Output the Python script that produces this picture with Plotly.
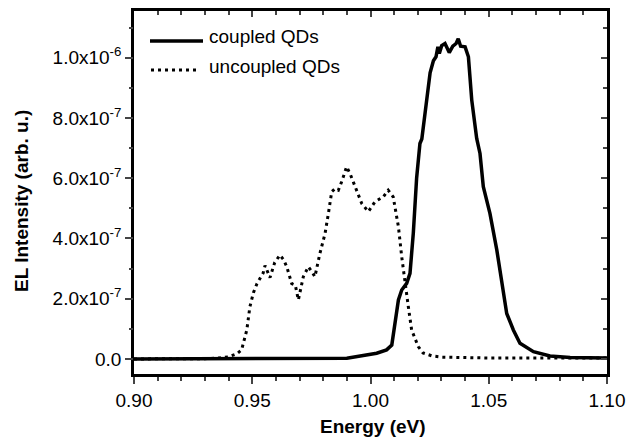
import plotly.graph_objects as go

# uncoupled QDs (dotted)
unc_x = [0.900, 0.910, 0.920, 0.930, 0.936, 0.940, 0.9435, 0.9455, 0.9477, 0.949, 0.9505, 0.952,
         0.9546, 0.9554, 0.9575, 0.9595, 0.9617, 0.9632, 0.9646, 0.9667, 0.9682, 0.9695, 0.9716,
         0.9737, 0.9752, 0.9765, 0.9786, 0.9808, 0.9822, 0.9836, 0.985, 0.9864, 0.9878, 0.9899,
         0.9913, 0.9934, 0.9963, 0.9991, 1.0019, 1.0054, 1.0075, 1.0096, 1.0118, 1.0132, 1.0146,
         1.016, 1.0174, 1.0202, 1.0222, 1.026, 1.03, 1.04, 1.05, 1.06, 1.07, 1.08, 1.09, 1.10]
unc_y = [0.0, 0.0, 0.0, 0.01e-7, 0.03e-7, 0.07e-7, 0.17e-7, 0.30e-7, 0.96e-7, 1.73e-7, 2.2e-7, 2.5e-7,
         2.85e-7, 3.1e-7, 2.7e-7, 3.2e-7, 3.45e-7, 3.3e-7, 3.06e-7, 2.5e-7, 2.45e-7, 1.96e-7, 2.73e-7,
         3.06e-7, 2.9e-7, 2.73e-7, 3.5e-7, 4.17e-7, 4.83e-7, 5.55e-7, 5.65e-7, 5.6e-7, 5.88e-7, 6.38e-7,
         6.16e-7, 5.72e-7, 5.16e-7, 4.89e-7, 5.22e-7, 5.38e-7, 5.6e-7, 5.38e-7, 4.39e-7, 3.39e-7, 2.51e-7,
         1.73e-7, 0.96e-7, 0.41e-7, 0.2e-7, 0.1e-7, 0.06e-7, 0.04e-7, 0.03e-7, 0.03e-7, 0.03e-7, 0.03e-7, 0.03e-7, 0.03e-7]

# coupled QDs (solid)
cpl_x = [0.900, 0.920, 0.940, 0.960, 0.980, 0.990, 1.0026, 1.0068, 1.009, 1.0104, 1.0118, 1.0132,
         1.0153, 1.0167, 1.0181, 1.0195, 1.0209, 1.0217, 1.023, 1.0252, 1.0266, 1.0277, 1.0285,
         1.0291, 1.0301, 1.0315, 1.0333, 1.0348, 1.0362, 1.0371, 1.0381, 1.040, 1.0414, 1.0428,
         1.0449, 1.0463, 1.0477, 1.0505, 1.0534, 1.0555, 1.0576, 1.0604, 1.0632, 1.0689, 1.0759,
         1.0844, 1.092, 1.100]
cpl_y = [0.0, 0.0, 0.0, 0.0, 0.01e-7, 0.02e-7, 0.19e-7, 0.3e-7, 0.46e-7, 1.18e-7, 1.96e-7, 2.29e-7,
         2.51e-7, 2.84e-7, 4.18e-7, 6.0e-7, 7.15e-7, 7.3e-7, 8.15e-7, 9.5e-7, 9.9e-7, 1.003e-6, 1.036e-6,
         1.014e-6, 1.04e-6, 1.047e-6, 1.017e-6, 1.038e-6, 1.047e-6, 1.063e-6, 1.038e-6, 1.036e-6, 1.003e-6, 8.6e-7,
         7.32e-7, 6.82e-7, 5.72e-7, 4.83e-7, 3.62e-7, 2.51e-7, 1.51e-7, 0.96e-7, 0.52e-7, 0.24e-7, 0.1e-7,
         0.05e-7, 0.03e-7, 0.03e-7]

ytick_vals = [0.0, 2e-7, 4e-7, 6e-7, 8e-7, 1e-6]
ytick_text = ["0.0", "2.0x10<sup>-7</sup>", "4.0x10<sup>-7</sup>", "6.0x10<sup>-7</sup>",
              "8.0x10<sup>-7</sup>", "1.0x10<sup>-6</sup>"]

FONT = "Liberation Sans, Arial, sans-serif"
FS = 19
XR = [0.9, 1.1]
YR = [-0.5e-7, 1.155e-6]

common = dict(showgrid=False, zeroline=False, automargin=False, linecolor="black")

fig = go.Figure()
fig.add_trace(go.Scatter(x=unc_x, y=unc_y, mode="lines", name="uncoupled QDs",
                         line=dict(color="black", width=3, dash="3px,4px")))
fig.add_trace(go.Scatter(x=cpl_x, y=cpl_y, mode="lines", name="coupled QDs",
                         line=dict(color="black", width=3.5)))
# helper traces so overlay axes get drawn (no visible marks)
fig.add_trace(go.Scatter(x=[None], y=[None], xaxis="x2", yaxis="y2", showlegend=False, hoverinfo="skip"))
fig.add_trace(go.Scatter(x=[None], y=[None], xaxis="x", yaxis="y3", showlegend=False, hoverinfo="skip"))

fig.update_layout(
    width=627, height=439,
    margin=dict(l=134, r=20, t=11, b=65),
    plot_bgcolor="white", paper_bgcolor="white",
    showlegend=False,
    font=dict(family=FONT, color="black", size=FS),
    xaxis=dict(range=XR, tickmode="linear", tick0=0.9, dtick=0.05, tickformat=".2f",
               ticks="outside", ticklen=7, tickwidth=2, showline=True, linewidth=2.5,
               tickfont=dict(size=FS),
               minor=dict(dtick=0.01, tick0=0.9, ticks="outside", ticklen=4, tickwidth=2), **common),
    yaxis=dict(range=YR, tickmode="array", tickvals=ytick_vals, ticktext=ytick_text,
               ticks="outside", ticklen=6, tickwidth=2, showline=True, linewidth=2.5,
               tickfont=dict(size=FS), **common),
    yaxis3=dict(range=YR, overlaying="y", side="left", anchor="x", tickmode="linear", tick0=0,
                dtick=1e-7, ticks="outside", ticklen=4, tickwidth=2, showticklabels=False,
                showline=False, **common),
    xaxis2=dict(range=XR, overlaying="x", side="top", anchor="y", tickmode="linear", tick0=0.9,
                dtick=0.05, ticks="inside", ticklen=6, tickwidth=2, showticklabels=False,
                showline=True, linewidth=2.5,
                minor=dict(dtick=0.01, tick0=0.9, ticks="inside", ticklen=4, tickwidth=2), **common),
    yaxis2=dict(range=YR, overlaying="y", side="right", anchor="x", tickmode="linear", tick0=0,
                dtick=2e-7, ticks="inside", ticklen=6, tickwidth=2, showticklabels=False,
                showline=True, linewidth=2.5,
                minor=dict(dtick=1e-7, tick0=0, ticks="inside", ticklen=4, tickwidth=2), **common),
)

def px2paper(px, py):
    return (px - 134) / 473, (374 - py) / 363

# axis titles
tx, ty = px2paper(373, 426)
fig.add_annotation(text="<b>Energy (eV)</b>", xref="paper", yref="paper", x=tx, y=ty,
                   xanchor="center", yanchor="middle", showarrow=False, borderpad=0,
                   font=dict(size=FS, family=FONT))
tx, ty = px2paper(22, 201)
fig.add_annotation(text="<b>EL Intensity (arb. u.)</b>", xref="paper", yref="paper", x=tx, y=ty,
                   textangle=-90, xanchor="center", yanchor="middle", showarrow=False,
                   font=dict(size=FS, family=FONT))

# custom legend
x0, y0 = px2paper(150, 41)
x1, _ = px2paper(203, 41)
fig.add_shape(type="line", xref="paper", yref="paper", x0=x0, x1=x1, y0=y0, y1=y0,
              line=dict(color="black", width=3.5))
tx, ty = px2paper(207, 37)
fig.add_annotation(text="coupled QDs", xref="paper", yref="paper", x=tx, y=ty, xanchor="left",
                   yanchor="middle", showarrow=False, font=dict(size=FS, family=FONT))
x0, y0 = px2paper(151, 70)
x1, _ = px2paper(197, 70)
fig.add_shape(type="line", xref="paper", yref="paper", x0=x0, x1=x1, y0=y0, y1=y0,
              line=dict(color="black", width=3, dash="3px,4px"))
tx, ty = px2paper(207, 66)
fig.add_annotation(text="uncoupled QDs", xref="paper", yref="paper", x=tx, y=ty, xanchor="left",
                   yanchor="middle", showarrow=False, font=dict(size=FS, family=FONT))

fig.write_html("out.html", config={"displayModeBar": False},
               post_script="document.body.style.margin='0';document.body.style.overflow='hidden';")
